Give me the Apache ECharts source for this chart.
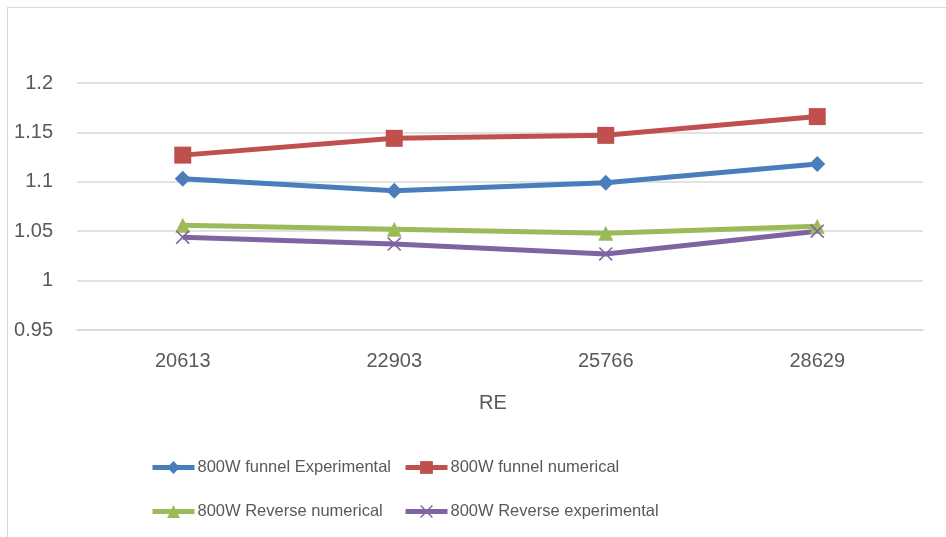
<!DOCTYPE html>
<html>
<head>
<meta charset="utf-8">
<script src="https://cdn.jsdelivr.net/npm/echarts@6/dist/echarts.min.js"></script>
<style>
  html, body { margin: 0; padding: 0; background: #fff; }
  #frame { position: absolute; left: 7px; top: 7px; width: 960px; height: 560px;
           border: 1.5px solid #d9d9d9; box-sizing: border-box; }
  #chart { position: absolute; left: 0; top: 0; width: 946px; height: 537px; }
</style>
</head>
<body>
<div id="frame"></div>
<div id="chart"></div>
<script>
// Reynolds numbers on the x axis
const categories = ['20613', '22903', '25766', '28629'];

// Ratio values per configuration
const funnelExperimental = [1.103, 1.091, 1.099, 1.118];
const funnelNumerical = [1.127, 1.144, 1.147, 1.166];
const reverseNumerical = [1.056, 1.052, 1.048, 1.055];
const reverseExperimental = [1.044, 1.037, 1.027, 1.050];

const seriesNames = [
  '800W funnel Experimental',
  '800W funnel numerical',
  '800W Reverse numerical',
  '800W Reverse experimental'
];

const FONT = '"Liberation Sans", Arial, sans-serif';
const TEXT = '#595959';

// Thin filled cross used as the marker of the reverse experimental series
const crossPath = 'path://M0,0.8 L0.8,0 L5,4.2 L9.2,0 L10,0.8 L5.8,5 L10,9.2 L9.2,10 L5,5.8 L0.8,10 L0,9.2 L4.2,5 Z';

function lineSeries(name, data, color, symbol, size) {
  return {
    name: name,
    type: 'line',
    data: data,
    symbol: symbol,
    symbolSize: size,
    showAllSymbol: true,
    lineStyle: { color: color, width: 5 },
    itemStyle: { color: color },
    z: 3
  };
}

function legendAt(name, left, top) {
  return {
    data: [name],
    left: left,
    top: top,
    itemWidth: 42,
    itemHeight: 16,
    selectedMode: false,
    lineStyle: { width: 5 },
    textStyle: { fontFamily: FONT, fontSize: 16.5, color: TEXT, padding: [0, 0, 0, -2] }
  };
}

const chart = echarts.init(document.getElementById('chart'), null, { renderer: 'canvas' });
chart.setOption({
  animation: false,
  backgroundColor: 'transparent',
  grid: { left: 77, right: 23, top: 83, bottom: 207, containLabel: false },
  xAxis: {
    type: 'category',
    data: categories,
    name: 'RE',
    nameLocation: 'middle',
    nameGap: 63,
    nameTextStyle: { fontFamily: FONT, fontSize: 20, color: TEXT, padding: [0, 14, 0, 0] },
    axisLine: { show: true, lineStyle: { color: '#d9d9d9', width: 1.5 } },
    axisTick: { show: false },
    axisLabel: { fontFamily: FONT, fontSize: 20, color: TEXT, margin: 21 }
  },
  yAxis: {
    type: 'value',
    min: 0.95,
    max: 1.2,
    interval: 0.05,
    axisLine: { show: false },
    axisTick: { show: false },
    splitLine: { lineStyle: { color: '#d9d9d9', width: 1.5 } },
    axisLabel: {
      fontFamily: FONT, fontSize: 20, color: TEXT, margin: 24,
      formatter: function (v) { return String(parseFloat(v.toFixed(2))); }
    }
  },
  legend: [
    legendAt(seriesNames[0], 145, 454),
    legendAt(seriesNames[1], 398, 454),
    legendAt(seriesNames[2], 145, 498),
    legendAt(seriesNames[3], 398, 498)
  ],
  series: [
    lineSeries(seriesNames[0], funnelExperimental, '#4a7ebb', 'diamond', 16),
    lineSeries(seriesNames[1], funnelNumerical, '#c0504d', 'rect', 17),
    lineSeries(seriesNames[2], reverseNumerical, '#9bbb59', 'triangle', 15),
    lineSeries(seriesNames[3], reverseExperimental, '#8064a2', crossPath, 14)
  ]
});
</script>
</body>
</html>
